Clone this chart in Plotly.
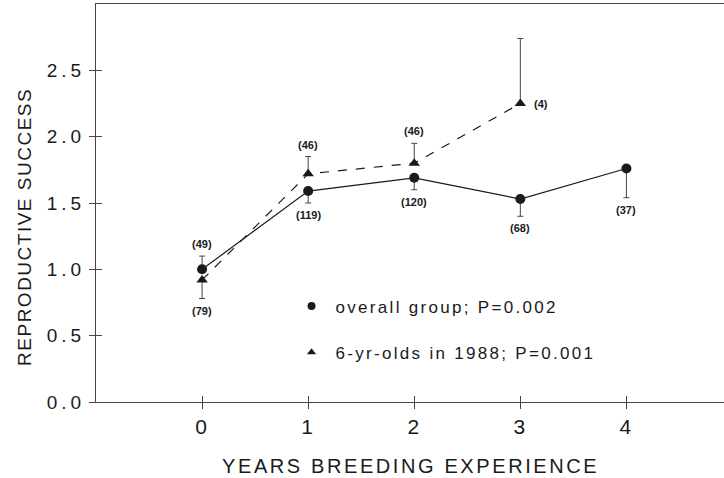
import plotly.graph_objects as go

years = [0, 1, 2, 3, 4]
overall_mean = [1.00, 1.59, 1.69, 1.53, 1.76]
overall_err_up = [0.10, 0, 0, 0, 0]
overall_err_down = [0, 0.09, 0.09, 0.13, 0.22]
overall_n = ["(49)", "(119)", "(120)", "(68)", "(37)"]

six_years = [0, 1, 2, 3]
six_mean = [0.92, 1.72, 1.80, 2.25]
six_err_up = [0, 0.13, 0.15, 0.49]
six_err_down = [0.14, 0, 0, 0]
six_n = ["(79)", "(46)", "(46)", "(4)"]

ytick_vals = [0.0, 0.5, 1.0, 1.5, 2.0, 2.5]
ytick_text = ["0.0", "0.5", "1.0", "1.5", "2.0", "2.5"]
xtick_vals = [0, 1, 2, 3, 4]
xtick_text = ["0", "1", "2", "3", "4"]

FONT = "Liberation Sans, Arial, sans-serif"
INK = "#1a1a1a"
AX = "#444444"


def spaced(t, px):
    return f'<span style="letter-spacing:{px}px">{t}</span>'


fig = go.Figure()

fig.add_trace(go.Scatter(
    x=years, y=overall_mean, mode="lines+markers", showlegend=False,
    line=dict(color=INK, width=1.2),
    marker=dict(symbol="circle", size=10, color=INK),
    error_y=dict(type="data", symmetric=False, array=overall_err_up,
                 arrayminus=overall_err_down, color=AX, thickness=1, width=3),
))
fig.add_trace(go.Scatter(
    x=six_years, y=six_mean, mode="lines+markers", showlegend=False,
    line=dict(color=INK, width=1.2, dash="dash"),
    marker=dict(symbol="triangle-up", size=10, color=INK),
    error_y=dict(type="data", symmetric=False, array=six_err_up,
                 arrayminus=six_err_down, color=AX, thickness=1, width=3),
))

# legend-only entries
fig.add_trace(go.Scatter(x=[None], y=[None], mode="markers",
                         name=spaced("overall group; P=0.002", 2.3),
                         legendgroup="a", marker=dict(symbol="circle", size=8, color=INK)))
fig.add_trace(go.Scatter(x=[None], y=[None], mode="markers",
                         name=spaced("6-yr-olds in 1988; P=0.001", 2.3),
                         legendgroup="b", marker=dict(symbol="triangle-up", size=8, color=INK)))

# dummy trace for inner-tick overlay axes
fig.add_trace(go.Scatter(x=[None], y=[None], xaxis="x2", yaxis="y2", showlegend=False,
                         hoverinfo="skip"))


def add_n(xs, ys, ups, downs, labels, place):
    for x, y, u, d, t, p in zip(xs, ys, ups, downs, labels, place):
        txt = f"<b>{t}</b>"
        f = dict(family=FONT, size=11, color=INK)
        if p == "up":
            fig.add_annotation(x=x, y=y + u, text=txt, showarrow=False, yshift=12, font=f)
        elif p == "down":
            fig.add_annotation(x=x, y=y - d, text=txt, showarrow=False, yshift=-12, font=f)
        else:
            fig.add_annotation(x=x, y=y, text=txt, showarrow=False, xshift=21, font=f)


add_n(years, overall_mean, overall_err_up, overall_err_down, overall_n,
      ["up", "down", "down", "down", "down"])
add_n(six_years, six_mean, six_err_up, six_err_down, six_n,
      ["down", "up", "up", "right"])

fig.add_annotation(text=spaced("REPRODUCTIVE SUCCESS", 1.5), xref="paper", yref="paper",
                   x=-0.113, y=0.44, xanchor="center", yanchor="middle", textangle=-90,
                   showarrow=False, font=dict(family=FONT, size=19, color=INK))
fig.add_annotation(text=spaced("YEARS BREEDING EXPERIENCE", 2.6), xref="paper", yref="paper",
                   x=0.5, y=-0.16, xanchor="center", yanchor="middle", showarrow=False,
                   font=dict(family=FONT, size=20, color=INK))

xr = [-1.0, 4.92]
yr = [0, 3.0]
fig.update_layout(
    width=724, height=478,
    margin=dict(l=96, r=0, t=4, b=76),
    paper_bgcolor="white", plot_bgcolor="white",
    font=dict(family=FONT, color=INK),
    xaxis=dict(range=xr, tickvals=xtick_vals, ticktext=[spaced(t, 2) for t in xtick_text],
               showgrid=False, zeroline=False,
               showline=True, linecolor=AX, linewidth=1, mirror=True,
               ticks="outside", ticklen=6, tickcolor=AX, ticklabelstandoff=0,
               tickfont=dict(size=21, family=FONT, color=INK)),
    yaxis=dict(range=yr, tickvals=ytick_vals, ticktext=[spaced(t, 4) for t in ytick_text],
               showgrid=False,
               zeroline=False, showline=True, linecolor=AX, linewidth=1,
               ticks="outside", ticklen=6, tickcolor=AX, ticklabelstandoff=0,
               tickfont=dict(size=19, family=FONT, color=INK)),
    xaxis2=dict(range=xr, tickvals=xtick_vals, overlaying="x", anchor="y2",
                showgrid=False, zeroline=False, showline=False, ticks="inside",
                ticklen=6, tickcolor=AX, showticklabels=False),
    yaxis2=dict(range=yr, tickvals=ytick_vals, overlaying="y", anchor="x2",
                showgrid=False, zeroline=False, showline=False, ticks="inside",
                ticklen=6, tickcolor=AX, showticklabels=False),
    legend=dict(x=0.305, y=0.285, xanchor="left", yanchor="top", itemwidth=38,
                bgcolor="rgba(0,0,0,0)", tracegroupgap=21,
                font=dict(family=FONT, size=17, color=INK)),
    showlegend=True,
)

fig.write_html("out.html", config={"displayModeBar": False})

with open("out.html", "r", encoding="utf-8") as fh:
    html = fh.read()
html = html.replace("<head>", "<head><style>html,body{margin:0;padding:0;overflow:hidden;}</style>", 1)
with open("out.html", "w", encoding="utf-8") as fh:
    fh.write(html)
